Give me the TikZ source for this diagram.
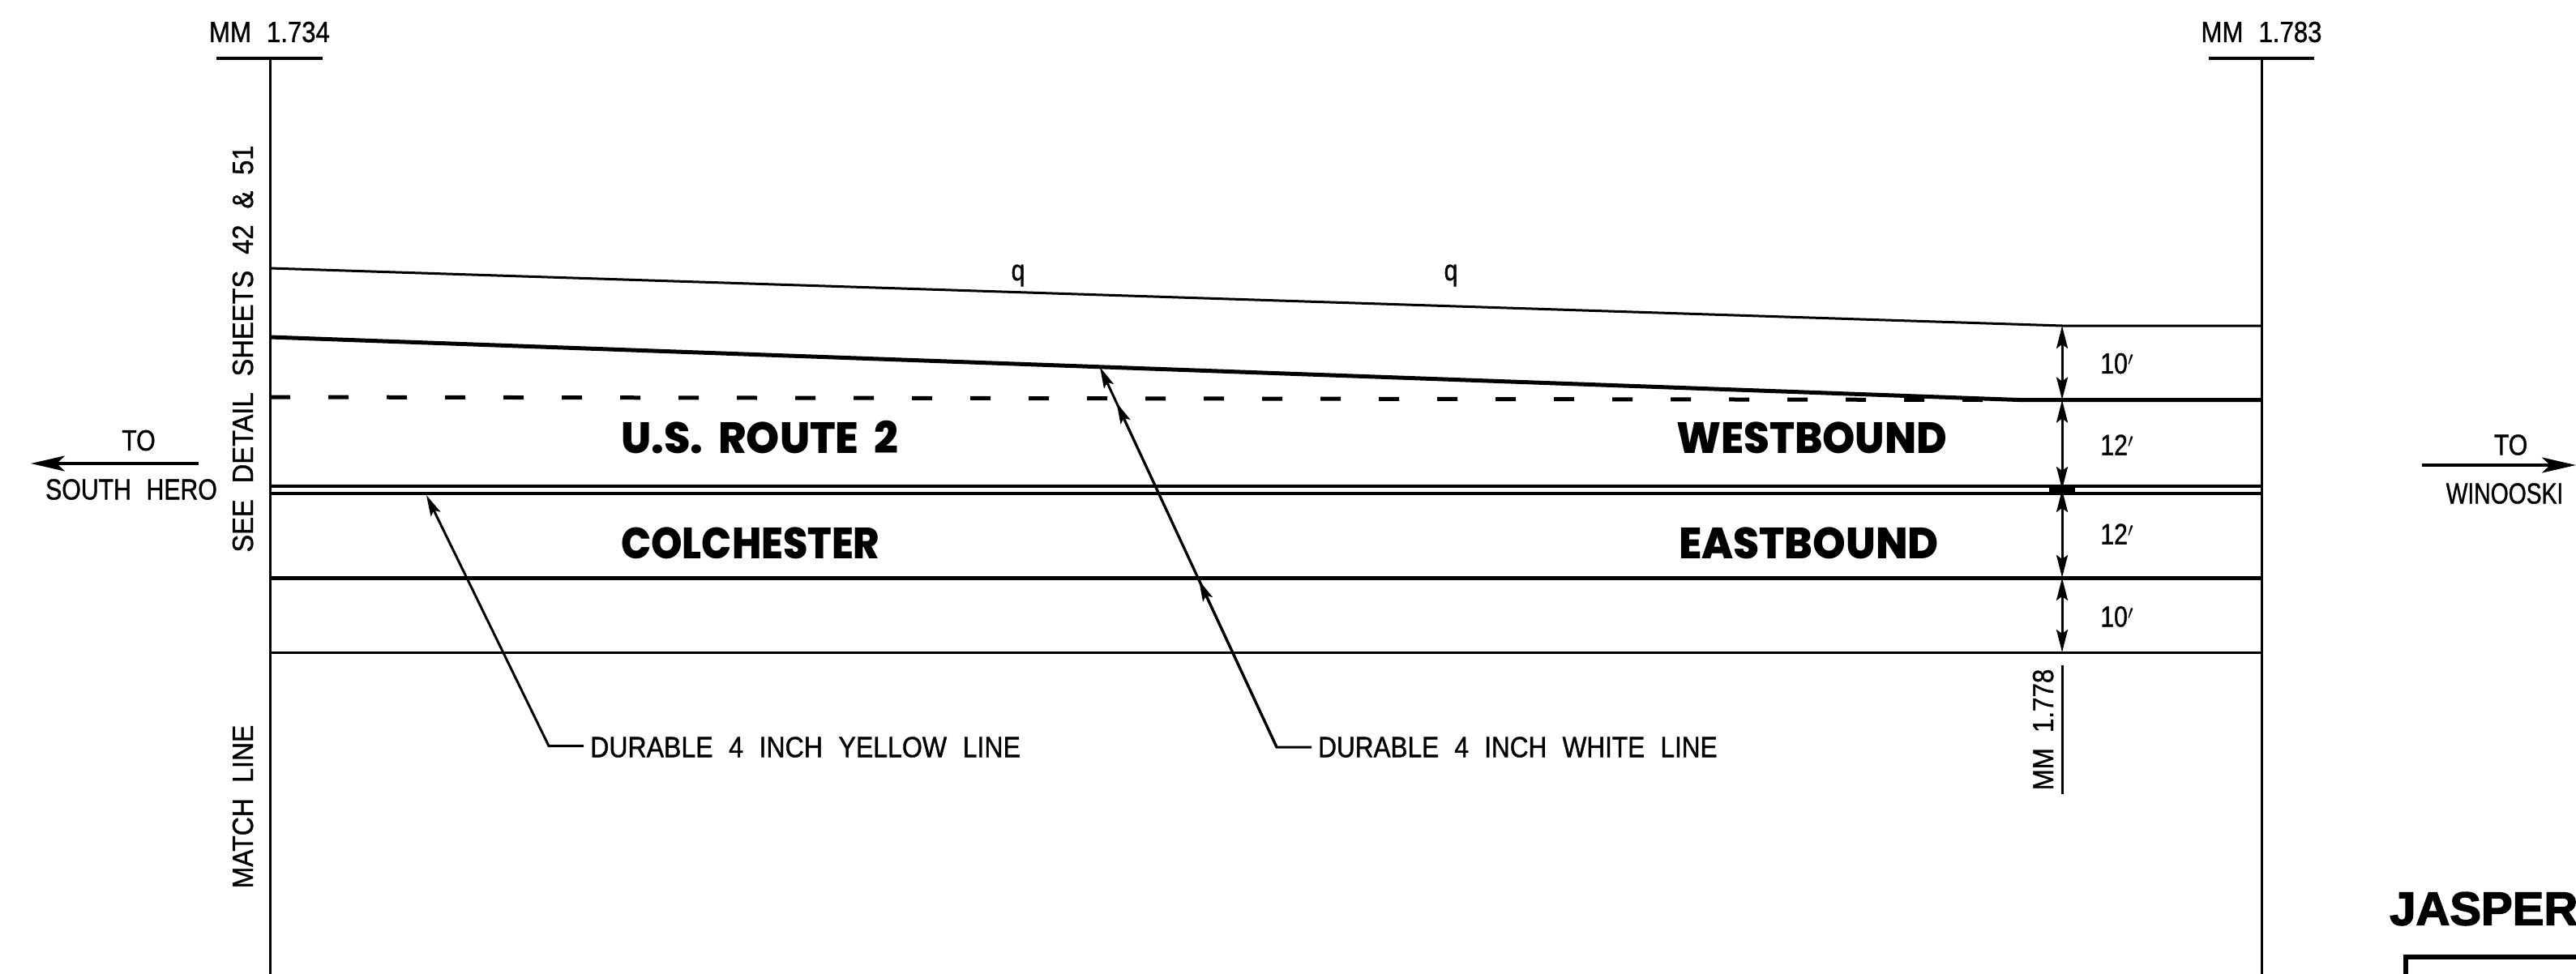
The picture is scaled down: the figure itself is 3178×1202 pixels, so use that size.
\documentclass[tikz,border=0pt]{standalone}
\usepackage{fontspec}
\usetikzlibrary{arrows.meta}
\newfontfamily\cadfont[FakeStretch=0.84,WordSpace=2.2,FakeBold=1.0]{Liberation Sans}
\newfontfamily\roadfont[FakeStretch=0.93,WordSpace=1.9]{Poppins ExtraBold}
\newfontfamily\minefont[FakeBold=2.5]{Liberation Sans Bold}
\newcommand{\widen}[2]{\scalebox{#1}[1]{#2}}
\tikzset{
  cadtext/.style={inner sep=0pt,font=\cadfont\fontsize{36}{36}\selectfont},
  roadtext/.style={inner sep=0pt,anchor=west,font=\roadfont\fontsize{54}{54}\selectfont},
  thinline/.style={line width=3pt},
  thickline/.style={line width=5pt},
  roadhead/.style={-{Stealth[length=26pt,width=13pt,inset=5pt]},line width=3pt},
  dimline/.style={{Stealth[length=28pt,width=14pt,inset=5pt]}-{Stealth[length=28pt,width=14pt,inset=5pt]},line width=3pt},
  dirarrow/.style={-{Stealth[length=42pt,width=19pt,inset=10pt]},line width=3.6pt}
}
\begin{document}
\begin{tikzpicture}[x=1pt,y=-1pt]
\useasboundingbox (0,0) rectangle (3178,1202);
% Drawing match lines
\coordinate (lefttop) at (333,72);
\coordinate (leftbot) at (333,1202);
\coordinate (righttop) at (2790,72);
\coordinate (rightbot) at (2790,1202);
\draw[thinline] (lefttop) -- (leftbot);
\draw[thinline] (righttop) -- (rightbot);
\coordinate (lefttick1) at (267,72);
\coordinate (lefttick2) at (398,72);
\coordinate (righttick1) at (2725,72);
\coordinate (righttick2) at (2855,72);
\draw[line width=3.4pt] (lefttick1) -- (lefttick2);
\draw[line width=3.4pt] (righttick1) -- (righttick2);
\node[cadtext] (mmleft) at (332.5,39.5) {\widen{1.03}{MM 1.734}};
\node[cadtext] (mmright) at (2790,39.5) {\widen{1.03}{MM 1.783}};
\node[cadtext,rotate=90,anchor=base] (seedetail) at (312,430.5) {\widen{1.08}{SEE DETAIL SHEETS 42 \& 51}};
\node[cadtext,rotate=90,anchor=base] (matchline) at (312,995.5) {\widen{1.055}{MATCH LINE}};
% Drawing pavement edges
\coordinate (shoulderA) at (333,331);
\coordinate (shoulderB) at (2544,402);
\coordinate (shoulderC) at (2790,402);
\draw[thinline] (shoulderA) -- (shoulderB) -- (shoulderC);
\coordinate (whiteA) at (333,416);
\coordinate (whiteB) at (2490,493.5);
\coordinate (whiteC) at (2790,493.5);
\draw[thickline] (whiteA) -- (whiteB) -- (whiteC);
\coordinate (dashA) at (333,490);
\coordinate (dashB) at (2446,493.5);
\draw[line width=5pt,dash pattern=on 25pt off 47pt] (dashA) -- (dashB);
% Line 2: centre double line
\coordinate (yellowA) at (333,600);
\coordinate (yellowB) at (2790,600);
\coordinate (yellowC) at (333,608.5);
\coordinate (yellowD) at (2790,608.5);
\draw[line width=4pt] (yellowA) -- (yellowB);
\draw[line width=4pt] (yellowC) -- (yellowD);
\fill (2528,598) rectangle (2560,610.5);
\coordinate (eastA) at (333,713);
\coordinate (eastB) at (2790,713);
\draw[thickline] (eastA) -- (eastB);
\coordinate (edgeA) at (333,805);
\coordinate (edgeB) at (2790,805);
\draw[thinline] (edgeA) -- (edgeB);
% Drawing centreline marks
\node[cadtext] (markA) at (1256,340) {q};
\node[cadtext] (markB) at (1790,340) {q};
% Drawing road labels
\node[roadtext] (route) at (766,540) {\widen{1.042}{U.S. ROUTE 2}};
\node[roadtext] (town) at (766,670) {\widen{0.975}{COLCHESTER}};
\node[roadtext] (westb) at (2068,540) {\widen{1.02}{WESTBOUND}};
\node[roadtext] (eastb) at (2071,670) {\widen{1.03}{EASTBOUND}};
% Drawing dimensions
\coordinate (dimA) at (2544,402);
\coordinate (dimB) at (2544,493.5);
\coordinate (dimC) at (2544,604);
\coordinate (dimD) at (2544,713);
\coordinate (dimE) at (2544,805);
\draw[dimline] (dimA) -- (dimB);
\draw[dimline] (dimB) -- (dimC);
\draw[dimline] (dimC) -- (dimD);
\draw[dimline] (dimD) -- (dimE);
\node[cadtext,anchor=west] (dimtenA) at (2591,448.5) {10$'$};
\node[cadtext,anchor=west] (dimtwelveA) at (2591,549) {12$'$};
\node[cadtext,anchor=west] (dimtwelveB) at (2591,659) {12$'$};
\node[cadtext,anchor=west] (dimtenB) at (2591,761) {10$'$};
\coordinate (mmA) at (2544,821);
\coordinate (mmB) at (2544,980);
\draw[thinline] (mmA) -- (mmB);
\node[cadtext,rotate=90,anchor=base] (mmmid) at (2533,900.5) {\widen{1.035}{MM 1.778}};
% Drawing leaders
\coordinate (yellowtip) at (526,611);
\coordinate (yellowelbow) at (677,920.5);
\coordinate (yellowend) at (720,920.5);
\draw[roadhead] (yellowend) -- (yellowelbow) -- (yellowtip);
\node[cadtext,anchor=west] (yellowlabel) at (728,922) {\widen{1.06}{DURABLE 4 INCH YELLOW LINE}};
\coordinate (whitetip) at (1357,453);
\coordinate (whitemidA) at (1377.5,497);
\coordinate (whitemidB) at (1479,716);
\coordinate (whiteelbow) at (1575,922);
\coordinate (whiteend) at (1618,922);
\draw[roadhead] (whiteend) -- (whiteelbow) -- (whitetip);
\draw[roadhead] (whiteelbow) -- (whitemidA);
\draw[roadhead] (whiteelbow) -- (whitemidB);
\node[cadtext,anchor=west] (whitelabel) at (1626,922) {\widen{1.043}{DURABLE 4 INCH WHITE LINE}};
% Drawing direction arrows
\coordinate (southA) at (245,572);
\coordinate (southB) at (38,572);
\draw[dirarrow] (southA) -- (southB);
\node[cadtext] (southto) at (171,543.5) {TO};
\node[cadtext] (southname) at (162,604) {SOUTH HERO};
\coordinate (winoA) at (2988,574);
\coordinate (winoB) at (3178,574);
\draw[dirarrow] (winoA) -- (winoB);
\node[cadtext] (winoto) at (3097.5,549) {TO};
\node[cadtext] (winoname) at (3090,609) {\widen{0.935}{WINOOSKI}};
% Drawing sign box
\node[inner sep=0pt,anchor=west,font=\minefont\fontsize{58}{58}\selectfont] (mine) at (2948,1121.5) {JASPER};
\coordinate (boxA) at (2968,1202);
\coordinate (boxB) at (2968,1181);
\coordinate (boxC) at (3178,1181);
\draw[line width=6pt] (boxA) -- (boxB) -- (boxC);
\end{tikzpicture}
\end{document}
